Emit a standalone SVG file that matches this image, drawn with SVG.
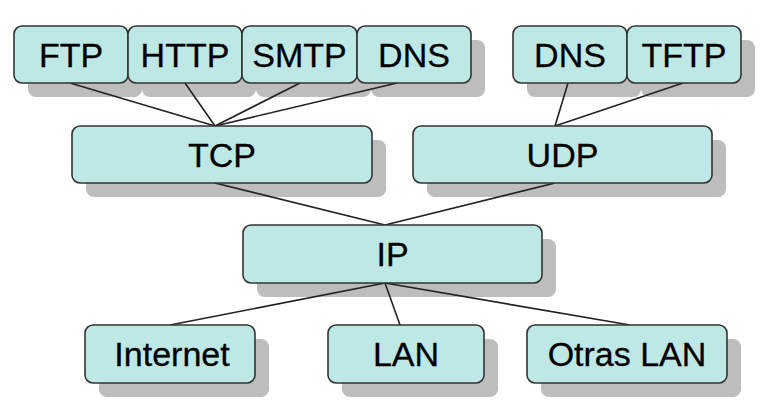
<svg xmlns="http://www.w3.org/2000/svg" width="780" height="416" viewBox="0 0 780 416">
<style>
.sh{fill:#bdbdbd}
.bx{fill:#bde8e6;stroke:#333;stroke-width:1.6}
.t{font-family:"Liberation Sans",Arial,sans-serif;font-size:34px;fill:#000;stroke:#000;stroke-width:0.3;text-anchor:middle}
.c line{stroke:#222;stroke-width:1.6}
</style>
<rect width="780" height="416" fill="#fff"/>
<g id="shadows">
<rect class="sh" x="28" y="40" width="114" height="57" rx="8"/>
<rect class="sh" x="142" y="40" width="114" height="57" rx="8"/>
<rect class="sh" x="256" y="40" width="115" height="57" rx="8"/>
<rect class="sh" x="371" y="40" width="114" height="57" rx="8"/>
<rect class="sh" x="527" y="40" width="114" height="57" rx="8"/>
<rect class="sh" x="641" y="40" width="114" height="57" rx="8"/>
<rect class="sh" x="86" y="140" width="300" height="57" rx="8"/>
<rect class="sh" x="427" y="140" width="299" height="57" rx="8"/>
<rect class="sh" x="257" y="239" width="299" height="58" rx="8"/>
<rect class="sh" x="99" y="339" width="170" height="58" rx="8"/>
<rect class="sh" x="342" y="339" width="156" height="58" rx="8"/>
<rect class="sh" x="541" y="339" width="200" height="58" rx="8"/>
</g>
<g class="c" id="connectors">
<line x1="70" y1="83" x2="215" y2="126"/>
<line x1="185" y1="83" x2="215" y2="126"/>
<line x1="300" y1="83" x2="215" y2="126"/>
<line x1="397" y1="83" x2="215" y2="126"/>
<line x1="568" y1="83" x2="555" y2="126"/>
<line x1="683" y1="83" x2="555" y2="126"/>
<line x1="215" y1="183" x2="385" y2="225"/>
<line x1="555" y1="183" x2="385" y2="225"/>
<line x1="385" y1="283" x2="170" y2="325"/>
<line x1="385" y1="283" x2="400" y2="325"/>
<line x1="385" y1="283" x2="630" y2="325"/>
</g>
<g id="ftp"><rect class="bx" x="14" y="26" width="114" height="57" rx="8"/><text class="t" x="71" y="67">FTP</text></g>
<g id="http"><rect class="bx" x="128" y="26" width="114" height="57" rx="8"/><text class="t" x="185" y="67">HTTP</text></g>
<g id="smtp"><rect class="bx" x="242" y="26" width="115" height="57" rx="8"/><text class="t" x="299.5" y="67">SMTP</text></g>
<g id="dns1"><rect class="bx" x="357" y="26" width="114" height="57" rx="8"/><text class="t" x="414" y="67">DNS</text></g>
<g id="dns2"><rect class="bx" x="513" y="26" width="114" height="57" rx="8"/><text class="t" x="570" y="67">DNS</text></g>
<g id="tftp"><rect class="bx" x="627" y="26" width="114" height="57" rx="8"/><text class="t" x="684" y="67">TFTP</text></g>
<g id="tcp"><rect class="bx" x="72" y="126" width="300" height="57" rx="8"/><text class="t" x="222" y="167">TCP</text></g>
<g id="udp"><rect class="bx" x="413" y="126" width="299" height="57" rx="8"/><text class="t" x="562.5" y="167">UDP</text></g>
<g id="ip"><rect class="bx" x="243" y="225" width="299" height="58" rx="8"/><text class="t" x="392.5" y="266">IP</text></g>
<g id="internet"><rect class="bx" x="85" y="325" width="170" height="58" rx="8"/><text class="t" x="172" y="366">Internet</text></g>
<g id="lan"><rect class="bx" x="328" y="325" width="156" height="58" rx="8"/><text class="t" x="406" y="366">LAN</text></g>
<g id="otras"><rect class="bx" x="527" y="325" width="200" height="58" rx="8"/><text class="t" x="627" y="366">Otras LAN</text></g>
</svg>
